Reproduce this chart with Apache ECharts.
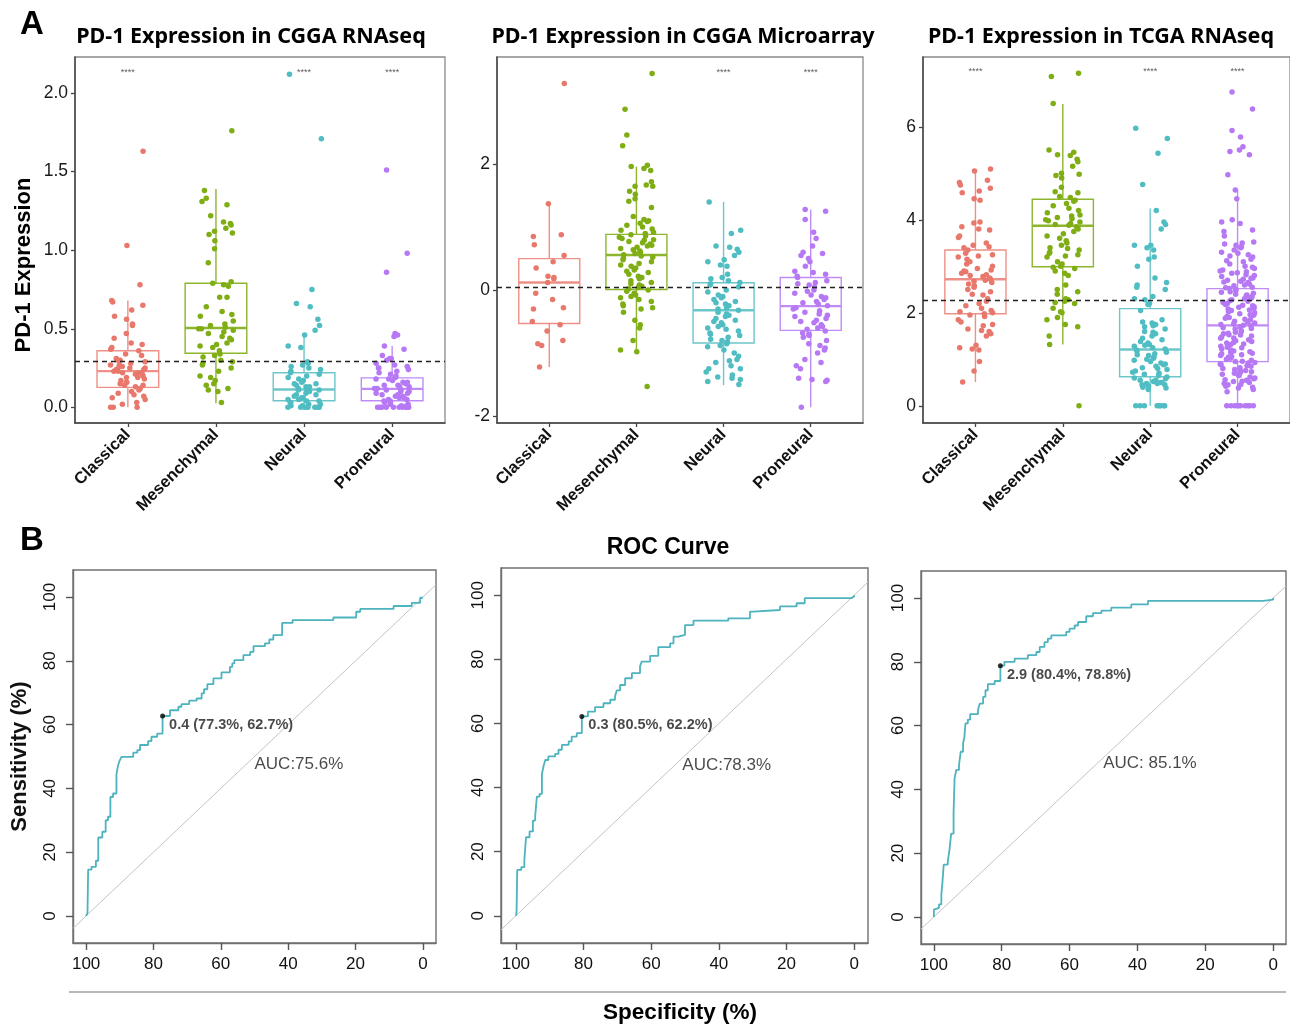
<!DOCTYPE html>
<html><head><meta charset="utf-8">
<script src="https://cdn.jsdelivr.net/npm/echarts@6/dist/echarts.min.js"></script>
<style>html,body{margin:0;padding:0;background:#fff}#c{width:1290px;height:1026px}</style>
</head><body><div id="c"></div>
<script>
// ---------- categories ----------
const subtypes = ['Classical', 'Mesenchymal', 'Neural', 'Proneural'];
const panelTitles = ['PD-1 Expression in CGGA RNAseq', 'PD-1 Expression in CGGA Microarray', 'PD-1 Expression in TCGA RNAseq'];

// ---------- A1: CGGA RNAseq ----------
const rnaClassical = [1.63,1.03,0.78,0.68,0.67,0.65,0.62,0.58,0.56,0.53,0.52,0.47,0.44,0.41,0.40,0.38,0.37,0.36,0.34,0.33,0.31,0.30,0.30,0.29,0.28,0.27,0.27,0.26,0.26,0.25,0.25,0.24,0.24,0.23,0.23,0.22,0.22,0.21,0.21,0.20,0.19,0.19,0.18,0.17,0.16,0.16,0.15,0.14,0.14,0.13,0.12,0.11,0.10,0.09,0.08,0.07,0.06,0.05,0.03,0.02,0.0,0.0,0.0];
const rnaMesenchymal = [1.76,1.38,1.33,1.31,1.29,1.22,1.18,1.17,1.16,1.14,1.12,1.11,1.10,1.06,1.01,0.92,0.80,0.79,0.78,0.77,0.70,0.70,0.64,0.61,0.59,0.58,0.55,0.53,0.52,0.51,0.50,0.50,0.49,0.48,0.47,0.45,0.44,0.43,0.41,0.40,0.39,0.38,0.36,0.34,0.33,0.32,0.30,0.29,0.28,0.27,0.25,0.23,0.20,0.19,0.17,0.15,0.14,0.12,0.11,0.10,0.03];
const rnaNeural = [2.12,1.71,0.75,0.66,0.64,0.56,0.52,0.49,0.46,0.39,0.38,0.29,0.28,0.27,0.26,0.25,0.24,0.23,0.22,0.21,0.20,0.19,0.18,0.17,0.16,0.15,0.15,0.14,0.13,0.13,0.12,0.12,0.11,0.11,0.10,0.10,0.09,0.08,0.08,0.07,0.06,0.06,0.05,0.05,0.04,0.04,0.03,0.03,0.02,0.02,0.01,0.01,0.0,0.0,0.0,0.0,0.0,0.0,0.0,0.0];
const rnaProneural = [1.51,0.98,0.86,0.47,0.46,0.45,0.39,0.37,0.33,0.31,0.31,0.30,0.28,0.27,0.26,0.25,0.25,0.24,0.23,0.22,0.21,0.20,0.19,0.18,0.18,0.17,0.16,0.16,0.15,0.14,0.14,0.13,0.13,0.12,0.12,0.11,0.11,0.10,0.10,0.09,0.09,0.08,0.08,0.07,0.07,0.06,0.06,0.05,0.05,0.04,0.04,0.03,0.03,0.02,0.02,0.01,0.01,0.0,0.0,0.0,0.0,0.0,0.0,0.0,0.0,0.0,0.0];
// box stats: [lower whisker, Q1, median, Q3, upper whisker]
const rnaBoxStats = [[0.0,0.127,0.23,0.36,0.68],[0.025,0.344,0.505,0.79,1.39],[0.0,0.042,0.113,0.22,0.457],[0.0,0.042,0.117,0.187,0.39]];

// ---------- A2: CGGA Microarray ----------
const arrClassical = [3.28,1.37,0.88,0.85,0.72,0.55,0.45,0.35,0.22,0.20,0.18,0.12,-0.05,-0.15,-0.28,-0.30,-0.50,-0.55,-0.65,-0.80,-0.85,-0.88,-1.22];
const arrMesenchymal = [3.44,2.87,2.46,2.29,1.98,1.96,1.93,1.90,1.72,1.67,1.65,1.65,1.57,1.52,1.45,1.41,1.31,1.17,1.12,1.10,1.09,1.06,1.03,1.00,0.97,0.95,0.92,0.90,0.88,0.86,0.84,0.82,0.80,0.79,0.77,0.75,0.73,0.71,0.70,0.68,0.66,0.64,0.62,0.60,0.58,0.56,0.54,0.52,0.50,0.48,0.45,0.42,0.40,0.38,0.35,0.32,0.30,0.28,0.25,0.22,0.20,0.18,0.15,0.12,0.10,0.08,0.06,0.04,0.02,0.0,-0.02,-0.05,-0.08,-0.10,-0.12,-0.15,-0.18,-0.22,-0.25,-0.28,-0.30,-0.35,-0.48,-0.55,-0.60,-0.80,-0.95,-0.98,-1.53];
const arrNeural = [1.40,0.95,0.90,0.70,0.68,0.65,0.60,0.55,0.48,0.45,0.40,0.38,0.25,0.20,0.18,0.15,0.12,0.10,0.08,0.05,0.0,-0.03,-0.08,-0.10,-0.12,-0.15,-0.18,-0.20,-0.22,-0.25,-0.28,-0.30,-0.32,-0.35,-0.38,-0.40,-0.42,-0.45,-0.48,-0.50,-0.52,-0.55,-0.58,-0.60,-0.62,-0.65,-0.68,-0.70,-0.72,-0.75,-0.78,-0.80,-0.82,-0.85,-0.88,-0.90,-0.95,-1.00,-1.05,-1.10,-1.12,-1.15,-1.20,-1.25,-1.25,-1.30,-1.35,-1.38,-1.40,-1.42,-1.45,-1.50];
const arrProneural = [1.28,1.25,1.12,0.92,0.82,0.70,0.60,0.58,0.55,0.50,0.45,0.38,0.30,0.28,0.25,0.22,0.20,0.15,0.12,0.10,0.08,0.05,0.0,-0.02,-0.05,-0.08,-0.10,-0.12,-0.15,-0.18,-0.20,-0.22,-0.25,-0.28,-0.30,-0.33,-0.35,-0.38,-0.40,-0.42,-0.45,-0.48,-0.50,-0.52,-0.55,-0.58,-0.60,-0.62,-0.65,-0.68,-0.70,-0.72,-0.75,-0.80,-0.85,-0.88,-0.92,-0.95,-1.0,-1.10,-1.15,-1.20,-1.25,-1.40,-1.45,-1.42,-1.43,-1.86];
const arrBoxStats = [[-1.22,-0.53,0.12,0.50,1.37],[-0.98,0.01,0.556,0.885,1.96],[-1.51,-0.84,-0.32,0.117,1.40],[-1.86,-0.64,-0.255,0.20,1.28]];

// ---------- A3: TCGA RNAseq ----------
const tcgaClassical = [5.09,5.05,4.85,4.8,4.75,4.68,4.62,4.58,4.45,4.42,3.95,3.93,3.85,3.8,3.78,3.65,3.62,3.5,3.45,3.42,3.4,3.35,3.28,3.25,3.22,3.2,3.15,3.1,3.05,3.0,2.95,2.92,2.9,2.88,2.85,2.82,2.8,2.78,2.75,2.72,2.7,2.68,2.65,2.62,2.58,2.55,2.5,2.45,2.4,2.38,2.3,2.25,2.2,2.15,2.1,2.05,2.02,2.0,1.98,1.95,1.92,1.85,1.8,1.75,1.72,1.65,1.62,1.6,1.55,1.5,1.3,1.25,1.22,1.2,0.95,0.75,0.51];
const tcgaMesenchymal = [7.15,7.08,6.5,5.5,5.45,5.4,5.38,5.3,5.25,5.15,5.0,4.98,4.95,4.9,4.7,4.6,4.58,4.5,4.48,4.42,4.4,4.35,4.3,4.25,4.2,4.15,4.1,4.08,4.05,4.02,4.0,3.98,3.95,3.92,3.9,3.88,3.85,3.8,3.75,3.7,3.65,3.6,3.55,3.5,3.45,3.4,3.38,3.35,3.3,3.28,3.25,3.22,3.2,3.1,3.05,3.0,2.98,2.95,2.9,2.85,2.8,2.6,2.5,2.45,2.4,2.3,2.28,2.25,2.22,2.2,2.1,2.02,2.0,1.9,1.85,1.75,1.7,1.5,1.32,0.0];
const tcgaNeural = [5.97,5.75,5.43,4.76,4.2,3.95,3.9,3.8,3.45,3.45,3.4,3.35,3.2,3.15,3.0,2.75,2.65,2.6,2.55,2.5,2.35,2.3,2.28,2.2,2.18,2.05,1.85,1.8,1.78,1.75,1.72,1.7,1.65,1.6,1.58,1.55,1.5,1.45,1.42,1.38,1.35,1.32,1.3,1.28,1.25,1.22,1.2,1.18,1.15,1.12,1.1,1.08,1.05,1.02,1.0,0.98,0.95,0.92,0.9,0.88,0.85,0.82,0.8,0.78,0.75,0.72,0.7,0.68,0.65,0.62,0.6,0.58,0.55,0.55,0.52,0.5,0.5,0.48,0.48,0.45,0.45,0.42,0.42,0.4,0.38,0.35,0.0,0.0,0.0,0.0,0.0,0.0,0.0,0.0];
const tcgaProneural = [6.75,6.38,5.92,5.78,5.57,5.5,5.47,5.4,4.97,4.64,4.45,4.0,3.95,3.92,3.78,3.75,3.65,3.52,3.5,3.48,3.45,3.42,3.4,3.35,3.3,3.28,3.25,3.2,3.15,3.1,3.05,3.0,2.95,2.92,2.9,2.88,2.85,2.82,2.8,2.78,2.75,2.72,2.7,2.68,2.65,2.62,2.6,2.58,2.55,2.52,2.5,2.48,2.45,2.42,2.4,2.38,2.35,2.32,2.3,2.28,2.25,2.22,2.2,2.18,2.15,2.12,2.1,2.08,2.05,2.02,2.0,1.98,1.95,1.92,1.9,1.88,1.85,1.82,1.8,1.78,1.75,1.72,1.7,1.68,1.65,1.62,1.6,1.58,1.55,1.52,1.5,1.48,1.45,1.42,1.4,1.38,1.35,1.32,1.3,1.28,1.25,1.22,1.2,1.18,1.15,1.12,1.1,1.08,1.05,1.02,1.0,0.98,0.95,0.92,0.9,0.88,0.85,0.82,0.8,0.78,0.75,0.72,0.7,0.68,0.65,0.62,0.6,0.58,0.55,0.52,0.5,0.48,0.45,0.42,0.4,0.38,0.35,0.3,
  3.22,3.12,2.98,2.86,2.74,2.66,2.54,2.44,2.36,2.26,2.16,2.06,1.96,1.86,1.76,1.66,1.56,1.46,1.36,1.26,1.16,1.06,0.96,0.86,0.76,0.66,0.56,0.46,2.33,2.13,1.93,1.73,1.53,1.33,1.13,0.93,0.73,0.53,
  0.0,0.0,0.0,0.0,0.0,0.0,0.0,0.0,0.0,0.0];
const tcgaBoxStats = [[0.51,1.98,2.72,3.35,5.09],[1.32,2.99,3.87,4.44,6.49],[0.0,0.625,1.21,2.09,4.24],[0.0,0.95,1.73,2.52,4.64]];

// reference (dashed) lines, significance marks
const refLines = [0.29, 0.05, 2.27];
const sigGroups = [[1, 3, 4], [3, 4], [1, 3, 4]];
const sigLabel = '****';
const yTicksA = [[0, 0.5, 1.0, 1.5, 2.0], [-2, 0, 2], [0, 2, 4, 6]];
const xTicksA = [1, 2, 3, 4];

// ---------- B: ROC curves ----------
const rocSpec1 = [100,99.6,99.4,98.4,97.1,96.4,95.2,94.2,93.5,92.8,92.0,91.0,90.5,90.0,89.5,86.0,84.8,84.0,81.6,80.6,78.9,77.3,75.1,72.6,71.7,69.4,67.2,65.7,65.0,64.0,62.2,59.8,57.3,56.6,56.0,53.3,51.3,50.3,46.9,45.6,44.4,41.8,38.7,26.6,19.8,18.6,8.7,3.3,0.8,0];
const rocSens1 = [0,0.9,14.5,15.4,17.3,24.6,26.4,30.0,31.1,37.3,38.4,44.4,47.3,48.8,49.9,51.2,52.0,53.6,54.8,56.2,57.2,62.7,64.5,65.6,66.4,67.5,68.2,69.8,71.1,72.7,74.5,76.4,78.1,79.2,80.2,81.8,82.8,84.6,85.5,86.7,88.1,91.9,92.8,93.6,95.4,96.3,97.2,98.2,99.8,100];
const rocSpec2 = [100,99.8,99.6,98.4,97.5,97.0,95.96,94.97,94.3,93.8,93.0,92.3,91.8,91.3,90.4,88.4,87.4,86.4,84.4,83.5,82.0,80.5,78.7,76.6,74.1,72.1,70.7,70.2,69.2,67.7,65.7,63.3,62.8,60.3,57.9,54.4,53.4,52.0,50.0,47.5,37.2,30.8,29.8,21.9,17.0,14.6,0.8,0];
const rocSens2 = [0,1.0,14.3,15.2,17.3,24.5,26.3,29.7,31.0,37.2,38.0,44.2,46.8,48.6,49.7,50.5,51.8,53.3,54.4,55.9,57.0,62.2,63.7,65.1,66.3,67.4,68.4,70.3,72.0,74.1,75.7,77.8,79.3,81.1,83.8,85.0,87.1,87.6,90.7,92.1,92.8,94.9,95.4,96.5,97.5,99.1,99.6,100];
const rocSpec3 = [100,100,99.5,98.5,97.8,97.5,97.1,95.9,95.4,94.9,94.2,93.9,93.4,92.6,92.1,91.4,91.0,90.7,90.0,89.3,87.0,86.5,85.5,84.8,84.1,82.1,80.4,79.2,76.2,72.3,69.8,68.8,67.4,66.4,65.4,61.0,60.0,58.5,57.5,55.1,53.1,50.6,47.7,41.8,36.9,4.4,2.9,0];
const rocSens3 = [0,2.3,2.8,3.9,7.0,10.6,16.4,17.4,21.1,26.1,32.5,43.5,46.1,47.7,51.8,54.4,56.5,60.7,61.9,63.6,64.9,66.9,69.0,71.1,73.0,74.0,78.8,80.0,81.0,82.1,83.1,84.7,86.2,87.3,88.3,89.4,90.4,91.4,92.5,94.3,95.3,96.1,97.0,98.0,99.1,99.1,99.5,100];
const bestThreshold = [0.4, 0.3, 2.9];
const bestSpec = [77.3, 80.5, 80.4];
const bestSens = [62.7, 62.2, 78.8];
const aucText = ['AUC:75.6%', 'AUC:78.3%', 'AUC: 85.1%'];
const aucPos = [[50, 47.5], [50.8, 46.8], [50.1, 48.2]];
const rocTicks = [0, 20, 40, 60, 80, 100];

// ---------- styling / layout ----------
const pointColors = ['#E9786C', '#7FAD14', '#4FBDC2', '#B678F4'];
const boxColors = ['#EE9087', '#8DB52E', '#6CC6CA', '#C08BF7'];
const rocColor = '#4DB3BE';
const sans = 'Liberation Sans, Arial, sans-serif';
const titleFont = 'Noto Sans, sans-serif';

const gridsA = [
  { left: 75, top: 57, width: 370, height: 366 },
  { left: 497, top: 57, width: 366, height: 366 },
  { left: 923, top: 57, width: 369, height: 366 }
];
const gridsB = [
  { left: 73, top: 570, width: 363, height: 373 },
  { left: 501, top: 568, width: 367, height: 375 },
  { left: 921, top: 571, width: 365, height: 373 }
];
const yRangeA = [[-0.10, 2.23], [-2.11, 3.70], [-0.37, 7.5]];
const sigY = [2.13, 3.46, 7.18];
const xRangeB = [[-3.9, 103.9], [-4.1, 104.4], [-3.8, 103.8]];
const yRangeB = [-8.5, 108.5];

const groupsA = [
  [rnaClassical, rnaMesenchymal, rnaNeural, rnaProneural],
  [arrClassical, arrMesenchymal, arrNeural, arrProneural],
  [tcgaClassical, tcgaMesenchymal, tcgaNeural, tcgaProneural]
];
const boxesA = [rnaBoxStats, arrBoxStats, tcgaBoxStats];
const rocs = [[rocSpec1, rocSens1], [rocSpec2, rocSens2], [rocSpec3, rocSens3]];

// deterministic horizontal jitter (display only): quadratic Weyl sequence
function jitter(i, g) {
  const n = i + 1 + g * 31;
  const f = (n * 0.6180339887 + n * n * 0.4142135624) % 1;
  return (f - 0.5) * 0.4;
}

function renderBox(params, api) {
  const g = api.value(0);
  const c = boxColors[g - 1];
  const lo = api.coord([g, api.value(1)]);
  const q1 = api.coord([g, api.value(2)]);
  const md = api.coord([g, api.value(3)]);
  const q3 = api.coord([g, api.value(4)]);
  const hi = api.coord([g, api.value(5)]);
  const half = api.size([0.35, 0])[0];
  const x = md[0];
  return { type: 'group', children: [
    { type: 'line', shape: { x1: x, y1: lo[1], x2: x, y2: q1[1] }, style: { stroke: c, lineWidth: 1.4 } },
    { type: 'line', shape: { x1: x, y1: q3[1], x2: x, y2: hi[1] }, style: { stroke: c, lineWidth: 1.4 } },
    { type: 'rect', shape: { x: x - half, y: q3[1], width: 2 * half, height: q1[1] - q3[1] }, style: { fill: '#fff', stroke: c, lineWidth: 1.4 } },
    { type: 'line', shape: { x1: x - half, y1: md[1], x2: x + half, y2: md[1] }, style: { stroke: c, lineWidth: 2.4 } }
  ] };
}

const grid = [], xAxis = [], yAxis = [], series = [];

gridsA.forEach((gr, p) => {
  grid.push(Object.assign({ show: true, borderColor: '#8a8a8a', borderWidth: 1.3, backgroundColor: 'transparent' }, gr));
  xAxis.push({
    type: 'value', gridIndex: p, min: 0.4, max: 4.6,
    splitLine: { show: false },
    axisLine: { show: true, onZero: false, lineStyle: { color: '#444', width: 1.5 } },
    axisTick: { show: true, length: 4, lineStyle: { color: '#444', width: 1.3 }, customValues: xTicksA },
    axisLabel: { customValues: xTicksA, formatter: v => subtypes[Math.round(v) - 1], rotate: 45, margin: 9,
      fontFamily: sans, fontWeight: 'bold', fontSize: 16.5, color: '#111' }
  });
  yAxis.push({
    type: 'value', gridIndex: p, min: yRangeA[p][0], max: yRangeA[p][1],
    splitLine: { show: false },
    axisLine: { show: true, onZero: false, lineStyle: { color: '#444', width: 1.5 } },
    axisTick: { show: true, length: 4, lineStyle: { color: '#444', width: 1.3 }, customValues: yTicksA[p] },
    axisLabel: { customValues: yTicksA[p], formatter: v => (p === 0 ? v.toFixed(1) : String(v)), margin: 7,
      fontFamily: sans, fontSize: 17.5, color: '#1a1a1a' }
  });
  series.push({
    type: 'custom', xAxisIndex: p, yAxisIndex: p, z: 1, silent: true,
    renderItem: renderBox,
    data: boxesA[p].map((s, k) => [k + 1].concat(s))
  });
  groupsA[p].forEach((vals, k) => {
    const g = k + 1;
    series.push({
      type: 'scatter', xAxisIndex: p, yAxisIndex: p, z: 3, silent: true,
      symbolSize: 5.5, itemStyle: { color: pointColors[k], opacity: 1 },
      data: vals.map((v, i) => [g + jitter(i, g), v])
    });
  });
  series.push({
    type: 'scatter', xAxisIndex: p, yAxisIndex: p, z: 4, silent: true, symbolSize: 0,
    data: sigGroups[p].map(g => [g, sigY[p]]),
    label: { show: true, position: 'inside', formatter: sigLabel, fontSize: 9, color: '#333', fontFamily: sans },
    markLine: { silent: true, symbol: 'none', label: { show: false },
      lineStyle: { type: [5, 4], color: '#222', width: 1.3 }, data: [{ yAxis: refLines[p] }] }
  });
});

gridsB.forEach((gr, q) => {
  const p = q + 3;
  grid.push(Object.assign({ show: true, borderColor: '#707070', borderWidth: 1.4 }, gr));
  xAxis.push({
    type: 'value', gridIndex: p, inverse: true, min: xRangeB[q][0], max: xRangeB[q][1],
    splitLine: { show: false },
    axisLine: { show: true, onZero: false, lineStyle: { color: '#707070', width: 1.4 } },
    axisTick: { show: true, length: 7, lineStyle: { color: '#555', width: 1.4 }, customValues: rocTicks },
    axisLabel: { customValues: rocTicks, margin: 13, fontFamily: sans, fontSize: 17, color: '#111' }
  });
  yAxis.push({
    type: 'value', gridIndex: p, min: yRangeB[0], max: yRangeB[1],
    splitLine: { show: false },
    axisLine: { show: true, onZero: false, lineStyle: { color: '#707070', width: 1.4 } },
    axisTick: { show: true, length: 7, lineStyle: { color: '#555', width: 1.4 }, customValues: rocTicks },
    axisLabel: { customValues: rocTicks, rotate: 90, margin: 14, fontFamily: sans, fontSize: 17, color: '#111' },
    name: q === 0 ? 'Sensitivity (%)' : '', nameLocation: 'middle', nameGap: 42, nameRotate: 90,
    nameTextStyle: { fontFamily: sans, fontWeight: 'bold', fontSize: 22, color: '#111' }
  });
  const xr = xRangeB[q];
  series.push({
    type: 'line', xAxisIndex: p, yAxisIndex: p, silent: true, symbol: 'none', z: 1,
    lineStyle: { color: '#c4c4c4', width: 1 },
    data: [[xr[1], 100 - xr[1]], [xr[0], 100 - xr[0]]]
  });
  series.push({
    type: 'line', xAxisIndex: p, yAxisIndex: p, silent: true, symbol: 'none', step: 'end', z: 2,
    lineStyle: { color: rocColor, width: 1.8 },
    data: rocs[q][0].map((s, i) => [s, rocs[q][1][i]])
  });
  series.push({
    type: 'scatter', xAxisIndex: p, yAxisIndex: p, silent: true, z: 3, symbolSize: 5,
    itemStyle: { color: '#000' },
    data: [[bestSpec[q], bestSens[q]]],
    label: { show: true, position: 'right', distance: 4, offset: [0, 9],
      formatter: bestThreshold[q].toFixed(1) + ' (' + bestSpec[q].toFixed(1) + '%, ' + bestSens[q].toFixed(1) + '%)',
      fontFamily: sans, fontWeight: 'bold', fontSize: 14.5, color: '#1a1a1a' }
  });
  series.push({
    type: 'scatter', xAxisIndex: p, yAxisIndex: p, silent: true, z: 3, symbolSize: 0,
    data: [aucPos[q]],
    label: { show: true, position: 'right', distance: 0, formatter: aucText[q],
      fontFamily: sans, fontSize: 17, color: '#1a1a1a' }
  });
});

const titleCenters = [251, 683, 1101];
function txt(x, y, text, font, extra) {
  return Object.assign({ type: 'text', x, y, style: { text, font, fill: '#000', align: 'center', verticalAlign: 'middle', textAlign: 'center', textVerticalAlign: 'middle' } }, extra || {});
}
const graphic = [
  txt(32, 25, 'A', 'bold 33px ' + sans),
  txt(32, 541, 'B', 'bold 33px ' + sans),
  txt(24, 265, 'PD-1 Expression', 'bold 22px ' + sans, { rotation: Math.PI / 2 }),
  txt(668, 548, 'ROC Curve', 'bold 23px ' + sans),
  txt(680, 1013, 'Specificity (%)', 'bold 22.5px ' + sans),
  { type: 'line', shape: { x1: 69, y1: 992, x2: 1286, y2: 992 }, style: { stroke: '#a0a0a0', lineWidth: 1.5 } }
];
panelTitles.forEach((t, i) => graphic.push(txt(titleCenters[i], 37, t, 'bold 21.5px ' + titleFont)));

const chart = echarts.init(document.getElementById('c'), null, { renderer: 'canvas' });
chart.setOption({ animation: false, backgroundColor: '#fff', grid, xAxis, yAxis, series, graphic });
</script></body></html>
